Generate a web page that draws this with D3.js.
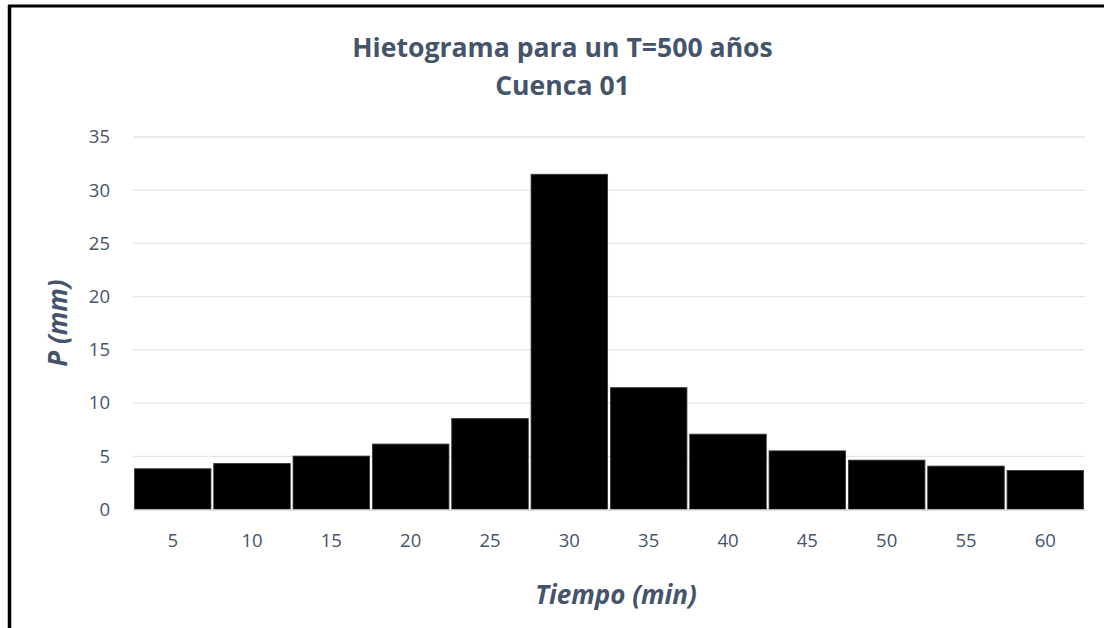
<!DOCTYPE html>
<html>
<head>
<meta charset="utf-8">
<script src="https://cdn.jsdelivr.net/npm/d3@7"></script>
<style>
  html, body { margin: 0; padding: 0; background: #fff; }
  svg { display: block; }
  text { font-family: "Open Sans", "Noto Sans", sans-serif; }
</style>
</head>
<body>
<svg id="chart" width="1104" height="628"></svg>
<script>
// Rainfall hyetograph, 5-minute intervals
const tiempos = ["5", "10", "15", "20", "25", "30", "35", "40", "45", "50", "55", "60"];
const precipitacion = [3.83, 4.33, 5.02, 6.15, 8.55, 31.5, 11.45, 7.08, 5.51, 4.64, 4.08, 3.67];
const yTicks = [0, 5, 10, 15, 20, 25, 30, 35];

const svg = d3.select("#chart");
const W = 1104, H = 628;
const plot = { left: 133, right: 1085, top: 137, bottom: 509.5 };
const textColor = "#44546A";
const fontStack = '"Open Sans", "Noto Sans", sans-serif';

// frame lines (top and left)
svg.append("rect").attr("x", 0).attr("y", 0).attr("width", W).attr("height", H).attr("fill", "#fff");
svg.append("line").attr("x1", 8).attr("x2", W).attr("y1", 6).attr("y2", 6)
  .attr("stroke", "#000").attr("stroke-width", 3);
svg.append("line").attr("x1", 9.5).attr("x2", 9.5).attr("y1", 5).attr("y2", H)
  .attr("stroke", "#000").attr("stroke-width", 3.5);

const x = d3.scaleBand().domain(tiempos).range([plot.left, plot.right]).paddingInner(0.035).paddingOuter(0.0175);
const y = d3.scaleLinear().domain([0, 35]).range([plot.bottom, plot.top]);

// horizontal gridlines
svg.append("g").selectAll("line").data(yTicks).join("line")
  .attr("x1", plot.left).attr("x2", plot.right)
  .attr("y1", d => y(d)).attr("y2", d => y(d))
  .attr("stroke", "#E1E5EA").attr("stroke-width", 1.3);

// y tick labels
const yAxis = svg.append("g").attr("transform", `translate(${plot.left},0)`)
  .call(d3.axisLeft(y).tickValues(yTicks).tickSize(0).tickPadding(23));
yAxis.select(".domain").remove();
yAxis.selectAll("text").attr("fill", textColor).attr("font-size", 18.5)
  .style("font-family", fontStack);

// bars
svg.append("g").selectAll("rect").data(precipitacion).join("rect")
  .attr("x", (d, i) => x(tiempos[i]))
  .attr("width", x.bandwidth())
  .attr("y", d => y(d))
  .attr("height", d => y(0) - y(d))
  .attr("fill", "#000")
  .attr("stroke", "#3a3a3a").attr("stroke-width", 0.8);

// baseline
svg.append("line").attr("x1", plot.left).attr("x2", plot.right)
  .attr("y1", y(0) + 0.5).attr("y2", y(0) + 0.5)
  .attr("stroke", "#D9DDE3").attr("stroke-width", 1.5);

// x tick labels
const xAxis = svg.append("g").attr("transform", `translate(0,${plot.bottom})`)
  .call(d3.axisBottom(x).tickSize(0).tickPadding(24));
xAxis.select(".domain").remove();
xAxis.selectAll("text").attr("fill", textColor).attr("font-size", 18.5)
  .style("font-family", fontStack);

// title
svg.append("text").attr("x", 562.5).attr("y", 56.5).attr("text-anchor", "middle")
  .attr("fill", textColor).attr("font-size", 26.6).attr("font-weight", "bold")
  .text("Hietograma para un T=500 años");
svg.append("text").attr("x", 562.5).attr("y", 95).attr("text-anchor", "middle")
  .attr("fill", textColor).attr("font-size", 26.6).attr("font-weight", "bold")
  .text("Cuenca 01");

// axis titles
svg.append("text").attr("x", 616).attr("y", 603.5).attr("text-anchor", "middle")
  .attr("fill", textColor).attr("font-size", 26).attr("font-weight", "bold").attr("font-style", "italic")
  .text("Tiempo (min)");
svg.append("text").attr("transform", "translate(67,323) rotate(-90)").attr("text-anchor", "middle")
  .attr("fill", textColor).attr("font-size", 26).attr("font-weight", "bold").attr("font-style", "italic")
  .text("P (mm)");
</script>
</body>
</html>
